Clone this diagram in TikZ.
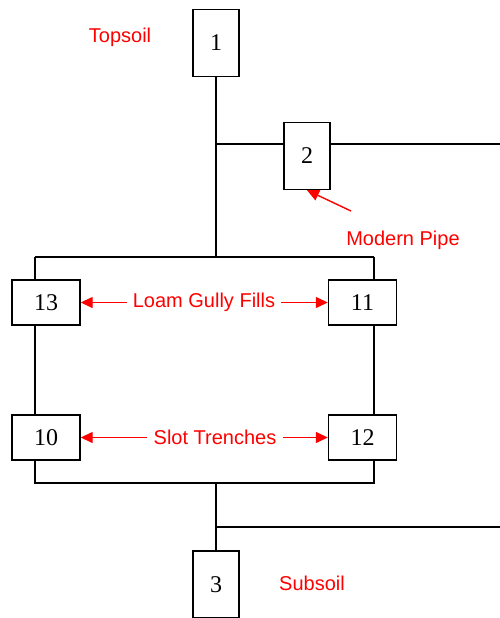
\documentclass[tikz,border=0pt]{standalone}
\usepackage{fontspec}
\setmainfont{Liberation Serif}
\setsansfont{Liberation Sans}
\definecolor{labelred}{HTML}{FF0000}
\usepackage{tikz}
\usetikzlibrary{
  positioning, calc, arrows.meta
}
\tikzset{
	numbox/.style={
			draw=black,
			line width=1.4pt,
			fill=white,
			inner sep=0pt,
			font=\fontsize{24}{28}\selectfont
		},
	tallbox/.style={
			numbox,
			minimum width=46pt,
			minimum height=67pt
		},
	widebox/.style={
			numbox,
			minimum width=68pt,
			minimum height=45pt
		},
	redlabel/.style={
			text=labelred,
			inner sep=6pt,
			font=\sffamily\fontsize{20}{24}\selectfont
		},
	pipe/.style={
			draw=black,
			line width=1.4pt
		},
	pointer/.style={
			draw=labelred,
			line width=1.4pt,
			-{Triangle[length=12pt,width=11pt]}
		}
}
\begin{document}
\begin{tikzpicture}[x=1pt, y=-1pt]
				\useasboundingbox (0,0) rectangle (500,618);
				\node[tallbox] at (216,43) (n1) {1};
				\node[tallbox] at (307,156) (n2) {2};
				\node[widebox] at (46,302.5) (n13) {13};
				\node[widebox] at (362.5,302.5) (n11) {11};
				\node[widebox] at (46,437.5) (n10) {10};
				\node[widebox] at (362.5,437.5) (n12) {12};
				\node[tallbox] at (216,584.5) (n3) {3};
				% junctions of the pipe run
				\coordinate (jpipe) at (216,144);
				\coordinate (eastpipe) at (500,144);
				\coordinate (topleft) at (35,257);
				\coordinate (topmid) at (216,257);
				\coordinate (topright) at (374,257);
				\coordinate (botleft) at (35,483);
				\coordinate (botmid) at (216,483);
				\coordinate (botright) at (374,483);
				\coordinate (jlow) at (216,527);
				\coordinate (eastlow) at (500,527);
				\draw[pipe] (n1.south) -- (topmid);
				\draw[pipe] (jpipe) -- (jpipe -| n2.west);
				\draw[pipe] (jpipe -| n2.east) -- (eastpipe);
				\draw[pipe] (topleft) -- (topright);
				\draw[pipe] (topleft) -- (topleft |- n13.north);
				\draw[pipe] (topright) -- (topright |- n11.north);
				\draw[pipe] (topleft |- n13.south) -- (topleft |- n10.north);
				\draw[pipe] (topright |- n11.south) -- (topright |- n12.north);
				\draw[pipe] (topleft |- n10.south) -- (botleft) -- (botright) -- (topright |- n12.south);
				\draw[pipe] (botmid) -- (n3.north);
				\draw[pipe] (jlow) -- (eastlow);
				% labels
				\node[redlabel] at (120,37) (topsoil) {Topsoil};
				\node[redlabel] at (312,583) (subsoil) {Subsoil};
				\node[redlabel] at (403,240) (modpipe) {Modern Pipe};
				\coordinate (pipetail) at (351,211);
				\draw[pointer] (pipetail) -- (n2.south);
				\node[redlabel] at (204,302.5) (loam) {Loam Gully Fills};
				\draw[pointer] (loam.west) -- (n13.east);
				\draw[pointer] (loam.east) -- (n11.west);
				\node[redlabel] at (215,437.5) (slot) {Slot Trenches};
				\draw[pointer] (slot.west) -- (n10.east);
				\draw[pointer] (slot.east) -- (n12.west);
			\end{tikzpicture}
\end{document}
